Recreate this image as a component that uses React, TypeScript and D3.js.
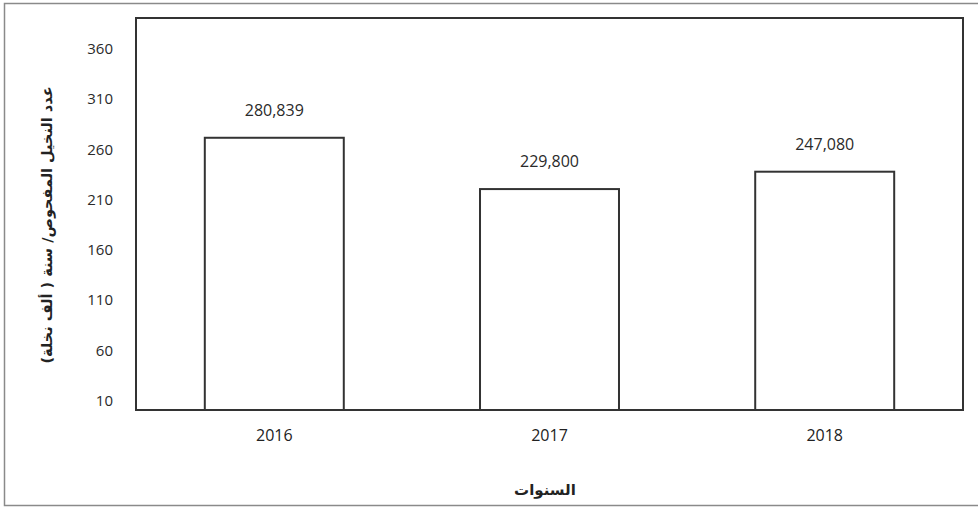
import React, { useRef, useEffect } from 'react';
import * as d3 from 'd3';

const years = ["2016", "2017", "2018"];
const values = [280.839, 229.8, 247.08];
const valueLabels = ["280,839", "229,800", "247,080"];
const yTicks = [10, 60, 110, 160, 210, 260, 310, 360];
const yTitle = "عدد النخيل المفحوص/ سنة ( ألف نخلة)";
const xTitle = "السنوات";

export default function App() {
    const svgRef = useRef<SVGSVGElement>(null);
    const width = 978;
    const height = 508;

    useEffect(() => {
        if (!svgRef.current) return;
        const root = d3.select(svgRef.current);
        root.selectAll("*").remove();

        const margin = { top: 18, right: 15, bottom: 98, left: 136 };
        const chartWidth = width - margin.left - margin.right;
        const chartHeight = height - margin.top - margin.bottom;

        // outer frame
        root.append("rect")
            .attr("x", 4.5).attr("y", 3.5)
            .attr("width", width).attr("height", 502)
            .attr("fill", "white")
            .attr("stroke", "#8a8a8a")
            .attr("stroke-width", 1.5);

        const svg = root.append("g")
            .attr("transform", `translate(${margin.left},${margin.top})`);

        const x = d3.scaleBand()
            .domain(years)
            .range([0, chartWidth])
            .paddingInner(0.495)
            .paddingOuter(0.25);

        const y = d3.scaleLinear()
            .domain([10, 400])
            .range([chartHeight, 0]);

        // y axis labels (no tick marks)
        const yAxis = svg.append("g")
            .call(d3.axisLeft(y).tickValues(yTicks).tickSize(0).tickPadding(23));
        yAxis.select(".domain").remove();
        yAxis.selectAll("text")
            .attr("dy", "-0.3em")
            .style("font-family", "'Open Sans', 'Liberation Sans', sans-serif")
            .style("font-size", "15px")
            .style("fill", "#2a2a2a");

        // x axis labels
        const xAxis = svg.append("g")
            .attr("transform", `translate(0,${chartHeight})`)
            .call(d3.axisBottom(x).tickSize(0).tickPadding(20));
        xAxis.select(".domain").remove();
        xAxis.selectAll("text")
            .style("font-family", "'Open Sans', 'Liberation Sans', sans-serif")
            .style("font-size", "16px")
            .style("font-weight", "500")
            .style("fill", "#222");

        // bars
        svg.selectAll(".bar")
            .data(values)
            .enter()
            .append("rect")
            .attr("class", "bar")
            .attr("x", (d, i) => x(years[i])!)
            .attr("y", d => y(d))
            .attr("width", x.bandwidth())
            .attr("height", d => chartHeight - y(d))
            .attr("fill", "white")
            .attr("stroke", "#333")
            .attr("stroke-width", 2);

        // value labels
        svg.selectAll(".label")
            .data(values)
            .enter()
            .append("text")
            .attr("x", (d, i) => x(years[i])! + x.bandwidth() / 2)
            .attr("y", d => y(d) - 22)
            .attr("text-anchor", "middle")
            .text((d, i) => valueLabels[i])
            .style("font-family", "'Open Sans', 'Liberation Sans', sans-serif")
            .style("font-size", "16px")
            .style("fill", "#2a2a2a");

        // plot frame
        svg.append("rect")
            .attr("width", chartWidth)
            .attr("height", chartHeight)
            .attr("fill", "none")
            .attr("stroke", "#333")
            .attr("stroke-width", 2);

        // axis titles
        root.append("text")
            .attr("transform", `translate(52,225) rotate(-90)`)
            .attr("text-anchor", "middle")
            .text(yTitle)
            .style("font-family", "'DejaVu Sans', sans-serif")
            .style("font-size", "14.5px")
            .style("font-weight", "bold")
            .style("fill", "#222");

        root.append("text")
            .attr("x", 545)
            .attr("y", 495)
            .attr("text-anchor", "middle")
            .text(xTitle)
            .style("font-family", "'DejaVu Sans', sans-serif")
            .style("font-size", "15px")
            .style("font-weight", "bold")
            .style("fill", "#222");
    }, []);

    return (
        <svg ref={svgRef} width={width} height={height}
            style={{ position: "absolute", left: 0, top: 0, background: "white" }} />
    );
}
